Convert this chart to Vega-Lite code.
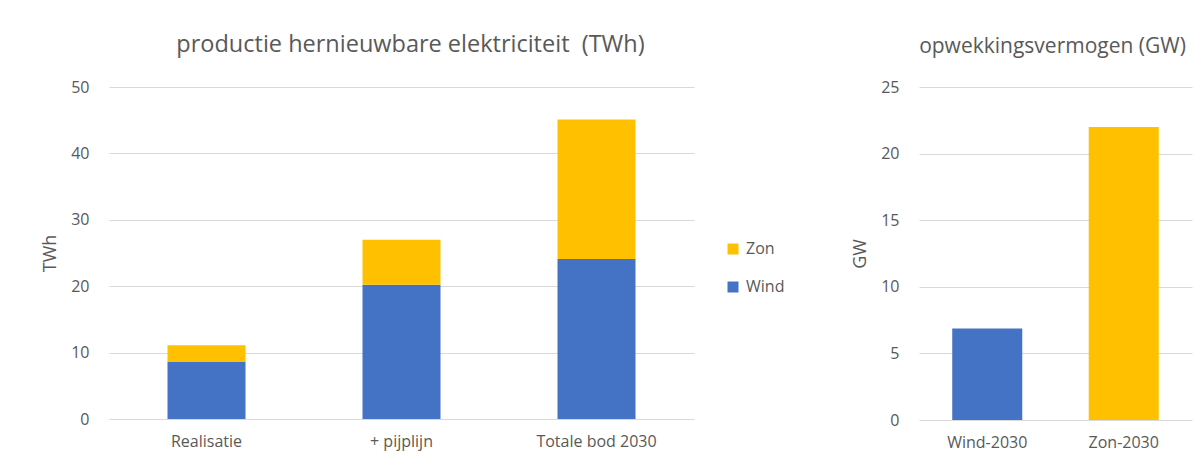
{
  "$schema": "https://vega.github.io/schema/vega-lite/v6.json",
  "padding": {"left": 41, "top": 32, "right": 5, "bottom": 4},
  "background": "white",
  "spacing": 66,
  "resolve": {"scale": {"color": "independent"}, "legend": {"color": "independent"}},
  "config": {
    "view": {"stroke": null},
    "font": "Open Sans",
    "axis": {
      "labelColor": "#595959",
      "labelFontSize": 16,
      "titleColor": "#595959",
      "titleFontSize": 18,
      "titleFontWeight": "normal",
      "gridColor": "#d9d9d9",
      "domainColor": "#d9d9d9",
      "ticks": false
    },
    "title": {"color": "#595959", "fontSize": 23.5, "fontWeight": "normal", "anchor": "middle"}
  },
  "hconcat": [
    {
      "width": 585,
      "height": 332,
      "title": {"text": "productie hernieuwbare elektriciteit\u00a0\u00a0(TWh)", "offset": 23, "dx": 9},
      "data": {
        "values": [
          {"categorie": "Realisatie", "serie": "Wind", "waarde": 8.6},
          {"categorie": "Realisatie", "serie": "Zon", "waarde": 2.5},
          {"categorie": "+ pijplijn", "serie": "Wind", "waarde": 20.2},
          {"categorie": "+ pijplijn", "serie": "Zon", "waarde": 6.8},
          {"categorie": "Totale bod 2030", "serie": "Wind", "waarde": 24.1},
          {"categorie": "Totale bod 2030", "serie": "Zon", "waarde": 21.0}
        ]
      },
      "mark": {"type": "bar"},
      "encoding": {
        "x": {
          "field": "categorie", "type": "nominal", "sort": null,
          "scale": {"paddingInner": 0.6, "paddingOuter": 0.3},
          "axis": {"title": null, "labelAngle": 0, "domain": false, "labelPadding": 14}
        },
        "y": {
          "field": "waarde", "type": "quantitative", "stack": "zero",
          "scale": {"domain": [0, 50], "nice": false},
          "axis": {"title": "TWh", "values": [0, 10, 20, 30, 40, 50], "domain": false, "labelPadding": 20, "titlePadding": 11}
        },
        "color": {
          "field": "serie", "type": "nominal",
          "scale": {"domain": ["Zon", "Wind"], "range": ["#FFC000", "#4472C4"]},
          "legend": {
            "title": null, "orient": "none", "legendX": 616, "legendY": 154,
            "symbolType": "square", "symbolSize": 121, "symbolStrokeWidth": 0,
            "labelFontSize": 16, "labelColor": "#595959", "rowPadding": 22, "labelOffset": 5
          }
        },
        "order": {"field": "serie", "sort": "ascending"}
      }
    },
    {
      "width": 273,
      "height": 333,
      "title": {"text": "opwekkingsvermogen (GW)", "offset": 22, "fontSize": 21, "dx": -3},
      "data": {
        "values": [
          {"categorie": "Wind-2030", "serie": "Wind", "waarde": 6.87},
          {"categorie": "Zon-2030", "serie": "Zon", "waarde": 22.0}
        ]
      },
      "mark": {"type": "bar"},
      "encoding": {
        "x": {
          "field": "categorie", "type": "nominal", "sort": null,
          "scale": {"paddingInner": 0.487, "paddingOuter": 0.2435},
          "axis": {"title": null, "labelAngle": 0, "domain": false, "labelPadding": 14}
        },
        "y": {
          "field": "waarde", "type": "quantitative",
          "scale": {"domain": [0, 25], "nice": false},
          "axis": {"title": "GW", "values": [0, 5, 10, 15, 20, 25], "domain": false, "labelPadding": 20, "titlePadding": 11}
        },
        "color": {
          "field": "serie", "type": "nominal",
          "scale": {"domain": ["Wind", "Zon"], "range": ["#4472C4", "#FFC000"]},
          "legend": null
        }
      }
    }
  ]
}
